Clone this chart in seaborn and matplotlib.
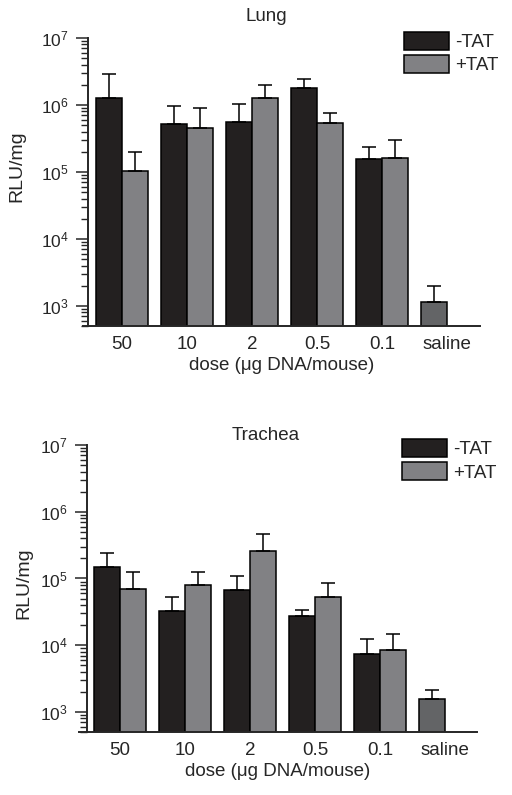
import matplotlib
matplotlib.use("Agg")
import matplotlib.pyplot as plt
import numpy as np
import pandas as pd
import seaborn as sns

doses = ["50", "10", "2", "0.5", "0.1", "saline"]
groups = ["-TAT", "+TAT"]

# Lung (RLU/mg); saline has a single bar
lung_minus = [1.29e6, 5.2e5, 5.6e5, 1.82e6, 1.55e5, 1.15e3]
lung_minus_err = [2.9e6, 9.8e5, 1.03e6, 2.45e6, 2.37e5, 1.95e3]
lung_plus = [1.05e5, 4.6e5, 1.27e6, 5.4e5, 1.6e5]
lung_plus_err = [2.0e5, 8.9e5, 2.0e6, 7.6e5, 2.95e5]

# Trachea (RLU/mg)
trach_minus = [1.46e5, 3.2e4, 6.8e4, 2.7e4, 7.3e3, 1.58e3]
trach_minus_err = [2.4e5, 5.3e4, 1.1e5, 3.4e4, 1.23e4, 2.1e3]
trach_plus = [6.9e4, 8.0e4, 2.6e5, 5.2e4, 8.6e3]
trach_plus_err = [1.27e5, 1.23e5, 4.6e5, 8.6e4, 1.46e4]

BLACK = "#231f20"
GRAY = "#808184"
SALINE = "#636466"


def _frame(minus, plus):
    rows = [(d, "-TAT", v) for d, v in zip(doses, minus)]
    rows += [(d, "+TAT", v) for d, v in zip(doses, plus)]
    return pd.DataFrame(rows, columns=["dose", "group", "rlu"])


def _panel(fig, rect, spine_off, title, title_xy, minus, minus_top, plus, plus_top,
           legend_xy, ylabel_xy, xlim):
    ax = fig.add_axes(rect)
    df = _frame(minus, plus)
    sns.barplot(data=df, x="dose", y="rlu", hue="group", order=doses, hue_order=groups,
                palette=[BLACK, GRAY], width=0.8, edgecolor="black", linewidth=1.1,
                errorbar=None, ax=ax, log_scale=(False, True))
    # saline bar is a darker gray
    ax.containers[0][-1].set_facecolor(SALINE)

    for cont, vals, tops in zip(ax.containers, [minus, plus], [minus_top, plus_top]):
        xs = [p.get_x() + p.get_width() / 2 for p in cont]
        up = np.array(tops) - np.array(vals)
        ax.errorbar(xs, vals, yerr=[np.zeros(len(vals)), up], fmt="none", ecolor="black",
                    elinewidth=1.1, capsize=4.8, capthick=1.1, zorder=1)

    ax.set_yscale("log")
    ax.set_ylim(5e2, 1e7)
    ax.set_xlim(*xlim)
    ax.set_yticks([1e3, 1e4, 1e5, 1e6, 1e7])
    ax.tick_params(axis="y", which="major", length=9, width=1.1, labelsize=12.5, pad=5)
    ax.tick_params(axis="y", which="minor", length=5, width=1.0)
    ax.tick_params(axis="x", length=0, labelsize=13.5, pad=7)
    sns.despine(ax=ax)
    ax.spines["left"].set_position(("axes", spine_off))
    for s in ["left", "bottom"]:
        ax.spines[s].set_linewidth(1.4)

    ax.set_xlabel("dose (\u03bcg DNA/mouse)", fontsize=13.5, labelpad=3)
    ax.set_ylabel("RLU/mg", fontsize=14)
    ax.yaxis.set_label_coords(*ylabel_xy)
    ax.text(title_xy[0], title_xy[1], title, transform=ax.transAxes, ha="center",
            va="baseline", fontsize=13.5)

    ax.legend(handles=[ax.containers[0][0], ax.containers[1][0]], labels=groups,
              loc="upper left", bbox_to_anchor=legend_xy, bbox_transform=fig.transFigure,
              frameon=False, fontsize=13.5, handlelength=2.4, handleheight=1.1,
              handletextpad=0.3, labelspacing=0.2, borderpad=0, borderaxespad=0)
    return ax


sns.set_style("ticks")
plt.rcParams["font.family"] = ["Liberation Sans", "DejaVu Sans"]
plt.rcParams["mathtext.fontset"] = "custom"
plt.rcParams["mathtext.rm"] = "Liberation Sans"

W, H = 512, 795
fig = plt.figure(figsize=(W / 100, H / 100), dpi=100)

_panel(fig, [83 / W, 1 - 326 / H, 397 / W, 288 / H], 5 / 397, "Lung", (0.463, 1.06),
       lung_minus, lung_minus_err, lung_plus, lung_plus_err,
       (404 / W, 1 - 32 / H), (-0.146, 0.556), (-0.6, 5.508))
_panel(fig, [79 / W, 1 - 732 / H, 398 / W, 287 / H], 8 / 398, "Trachea", (0.468, 1.018),
       trach_minus, trach_minus_err, trach_plus, trach_plus_err,
       (402 / W, 1 - 439 / H), (-0.118, 0.52), (-0.63, 5.49))

fig.savefig("out.png", dpi=100)
